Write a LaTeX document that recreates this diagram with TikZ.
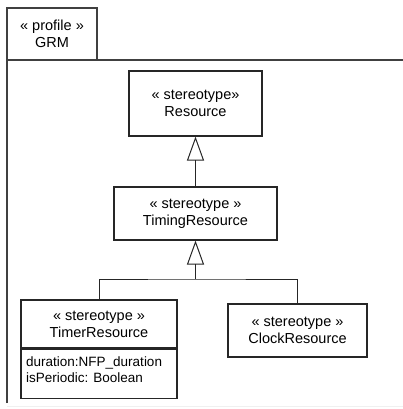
\documentclass[tikz,border=0pt]{standalone}
\usepackage{fontspec}
\setmainfont{Liberation Sans}
\usetikzlibrary{arrows.meta}

\tikzset{
  stereo/.style={draw=black!85,line width=1.1pt,align=center,inner sep=0pt,
    font=\fontsize{14.5}{17}\selectfont},
  attrs/.style={align=left,inner sep=0pt,anchor=north west,
    font=\fontsize{13.5}{15.5}\selectfont},
  gen/.style={-{Triangle[open,length=24pt,width=17pt]},line width=1pt,draw=black!85},
}

\begin{document}
\begin{tikzpicture}[x=1pt,y=-1pt]
\useasboundingbox (0,0) rectangle (403,409);

% profile package
\draw[black!75,line width=1.4pt] (7,60) -- (7,8) -- (97,8) -- (97,60);
\draw[black!75,line width=1.8pt] (7,403) -- (7,60) -- (403,60);
\draw[black!6,line width=0.8pt] (7,406) -- (403,406);
\node[align=center,font=\fontsize{14.5}{17}\selectfont] (grm) at (52,34) {« profile »\\GRM};

% stereotypes
\node[stereo,minimum width=133pt,minimum height=65pt] (res) at (195.5,103.5)
  {« stereotype»\\Resource};
\node[stereo,minimum width=163pt,minimum height=53pt] (timing) at (195.5,213.5)
  {« stereotype »\\TimingResource};
\node[stereo,minimum width=156pt,minimum height=48pt] (timer) at (99,324)
  {« stereotype »\\TimerResource};
\node[stereo,minimum width=156pt,minimum height=49pt,anchor=north] (timerattr) at (timer.south) {};
\node[attrs] (attrtxt) at (26,357) {duration:NFP\_duration\\isPeriodic: Boolean};
\node[stereo,minimum width=139pt,minimum height=53pt] (clock) at (297.5,330.5)
  {« stereotype »\\ClockResource};

% generalizations
\coordinate (junc) at (timing.south |- 0,279);
\draw[gen] (timing) -- (res);
\draw[gen] (junc) -- (timing);
\draw[line width=1pt,draw=black!85] (timer.north) |- (junc) -| (clock.north);
\end{tikzpicture}
\end{document}
